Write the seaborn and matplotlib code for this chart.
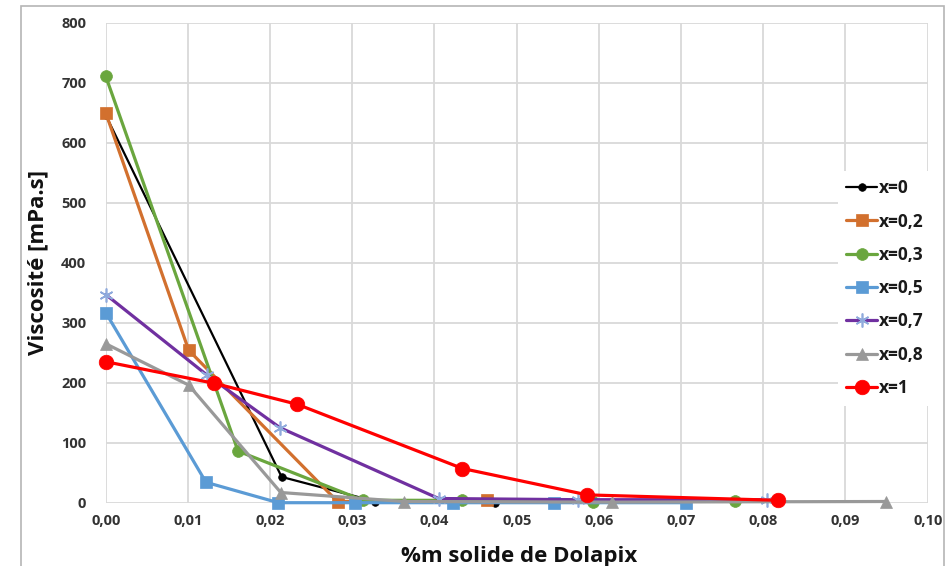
import matplotlib
matplotlib.use("Agg")
import matplotlib.pyplot as plt
import seaborn as sns
import pandas as pd
from matplotlib.patches import Rectangle
from matplotlib.ticker import FuncFormatter

# data
x_0 = [0.0, 0.0214, 0.0328, 0.0474]
v_0 = [646, 43, 2, 0]
x_02 = [0.0, 0.0101, 0.0282, 0.0464]
v_02 = [650, 254, 2, 4]
x_03 = [0.0, 0.0161, 0.0313, 0.0433, 0.0593, 0.0766]
v_03 = [711, 86, 4, 4, 1, 3]
x_05 = [0.0, 0.0122, 0.0210, 0.0303, 0.0423, 0.0545, 0.0706]
v_05 = [317, 34, 0, 0, 0, 0, 0]
x_07 = [0.0, 0.0123, 0.0212, 0.0405, 0.0575, 0.0805]
v_07 = [347, 213, 125, 7, 5, 5]
x_08 = [0.0, 0.0101, 0.0213, 0.0363, 0.0616, 0.0949]
v_08 = [265, 196, 17, 2, 1, 2]
x_1 = [0.0, 0.0132, 0.0233, 0.0434, 0.0586, 0.0818]
v_1 = [235, 199, 164, 57, 13, 4]

labels = ["x=0", "x=0,2", "x=0,3", "x=0,5", "x=0,7", "x=0,8", "x=1"]
xs = [x_0, x_02, x_03, x_05, x_07, x_08, x_1]
vs = [v_0, v_02, v_03, v_05, v_07, v_08, v_1]

# style per series: color, marker, size, line width, marker edge
styles = [
    ("#000000", "o", 5.5, 1.6, "#000000"),
    ("#D2702E", "s", 8.5, 2.3, "#D2702E"),
    ("#6AA63E", "o", 8.5, 2.3, "#6AA63E"),
    ("#5B9BD5", "s", 8.5, 2.3, "#5B9BD5"),
    ("#7030A0", (6, 2, 0), 10, 2.3, "#8FAADC"),
    ("#999999", "^", 8.5, 2.3, "#999999"),
    ("#FF0000", "o", 10.5, 2.3, "#FF0000"),
]

sns.set_theme(style="whitegrid")
plt.rcParams["font.family"] = ["Open Sans", "DejaVu Sans"]

fig = plt.figure(figsize=(9.48, 5.66), dpi=100)
W, H = 948, 566
x0, x1, y_top, y_bot = 105.7, 927.7, 22.7, 502.7
ax = fig.add_axes([x0 / W, 1 - y_bot / H, (x1 - x0) / W, (y_bot - y_top) / H])

# outer chart border (partially cropped in the reference)
fig.patches.append(Rectangle((21 / W, -0.05), (944 - 21) / W, 1.05 - 6 / H,
                             transform=fig.transFigure, fill=False,
                             edgecolor="#b5b5b5", linewidth=1.2))

for lab, xx, vv, (col, mk, ms, lw, mec) in zip(labels, xs, vs, styles):
    df = pd.DataFrame({"x": xx, "v": vv})
    sns.lineplot(data=df, x="x", y="v", ax=ax, color=col, linewidth=lw,
                 marker=mk, markersize=ms, markeredgecolor=mec,
                 markerfacecolor=mec, markeredgewidth=1.2 if mk == (6, 2, 0) else 0.5,
                 label=lab, sort=False, clip_on=False, zorder=3)

ax.set_xlim(0, 0.1)
ax.set_ylim(0, 800)
ax.set_xticks([i / 100 for i in range(11)])
ax.set_yticks(range(0, 801, 100))
ax.xaxis.set_major_formatter(FuncFormatter(lambda v, p: f"{v:.2f}".replace(".", ",")))
ax.grid(True, color="#d9d9d9", linewidth=1.3)
ax.set_axisbelow(True)
for s in ax.spines.values():
    s.set_visible(False)
ax.tick_params(axis="both", length=0, labelsize=10.5, labelcolor="#333333")
ax.tick_params(axis="y", pad=14)
ax.tick_params(axis="x", pad=8)
for t in ax.get_xticklabels() + ax.get_yticklabels():
    t.set_fontweight("bold")

ax.set_xlabel("%m solide de Dolapix", fontsize=16, fontweight="bold", color="#111111")
ax.set_ylabel("Viscosité [mPa.s]", fontsize=16, fontweight="bold", color="#111111")
ax.xaxis.set_label_coords(0.503, -0.09)
ax.yaxis.set_label_coords(-0.07, 0.5)

leg = ax.legend(loc="upper left", bbox_to_anchor=(0.88, 0.71), frameon=True,
                facecolor="white", edgecolor="none", framealpha=1,
                fontsize=12.5, handlelength=1.75, handletextpad=0.1,
                labelspacing=0.88, borderpad=0.5, numpoints=1)
for t in leg.get_texts():
    t.set_fontweight("bold")
    t.set_color("#1a1a1a")

fig.savefig("out.png", dpi=100)
